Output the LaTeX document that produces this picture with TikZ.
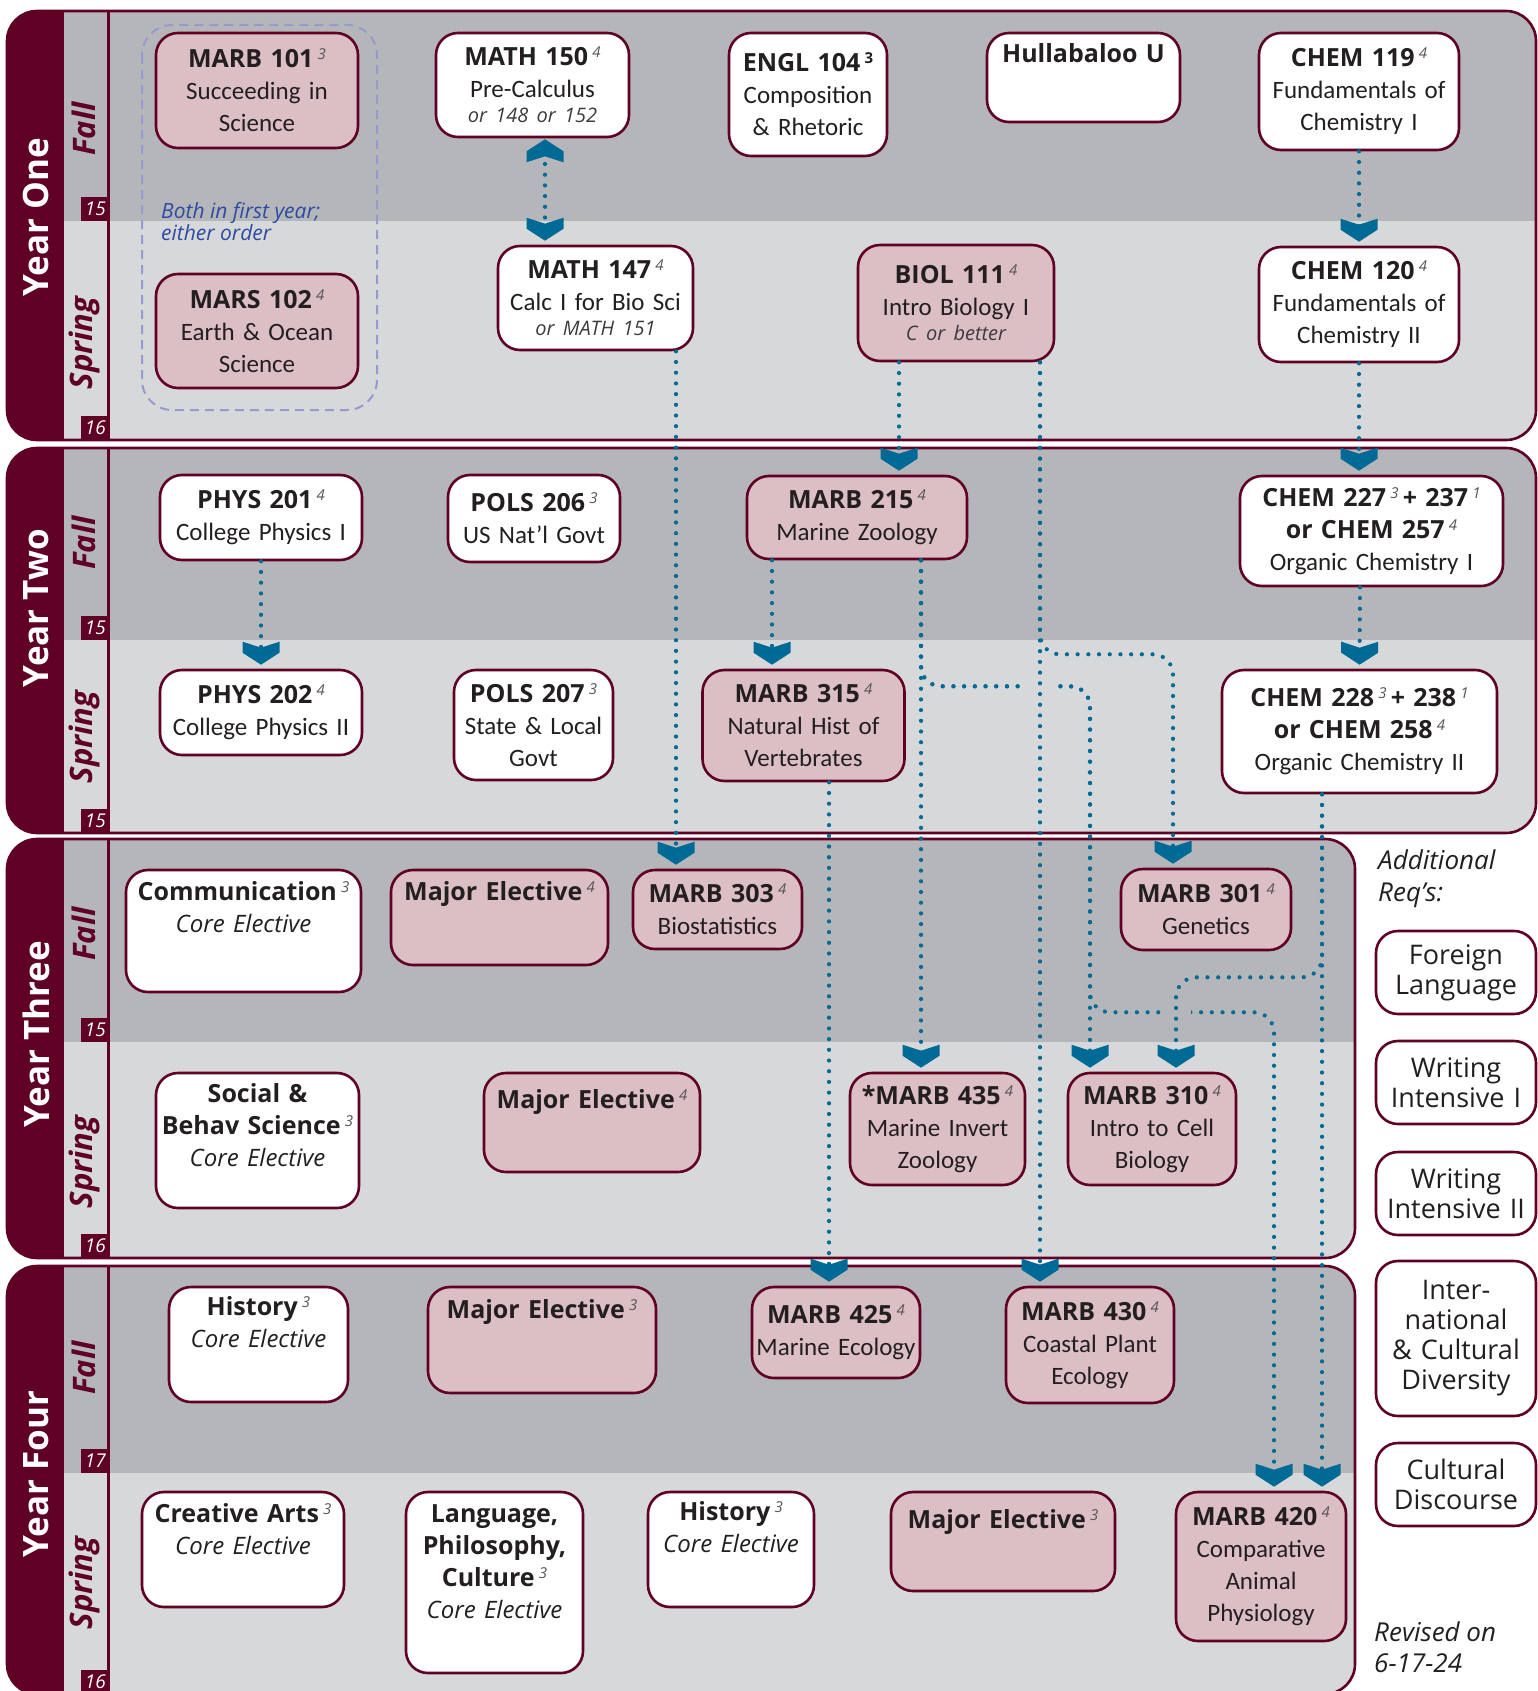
\documentclass[tikz,border=0pt]{standalone}
\usepackage{fontspec}
\setmainfont{Open Sans}
\newfontfamily\condfont{Carlito}
\usetikzlibrary{arrows.meta}

\definecolor{bandmaroon}{RGB}{96,0,36}
\definecolor{fallgray}{RGB}{181,182,186}
\definecolor{springgray}{RGB}{215,216,218}
\definecolor{coursepink}{RGB}{219,191,196}
\definecolor{chevblue}{RGB}{0,106,150}
\definecolor{notegray}{RGB}{60,60,60}
\definecolor{credgray}{RGB}{85,85,85}
\definecolor{groupblue}{RGB}{150,153,210}
\definecolor{noteblue}{RGB}{45,75,160}
\definecolor{ink}{RGB}{35,31,32}

\newcommand{\hd}[1]{\textbf{#1}}
\newcommand{\cnd}[1]{{\condfont\fontsize{25}{32}\selectfont #1}}
\newcommand{\aside}[1]{{\fontsize{20}{25}\selectfont\itshape\color{notegray}#1}}
\newcommand{\core}[1]{{\fontsize{24}{32}\selectfont\itshape #1}}
\newcommand{\crd}[1]{\,\raisebox{0.32em}{\normalfont\fontsize{15}{15}\selectfont\itshape\color{credgray}#1}}

% chevron tip for the prerequisite links
\pgfdeclarearrow{
  name = Chev,
  parameters = {},
  setup code = {
    \pgfarrowssettipend{0pt}
    \pgfarrowssetlineend{-14pt}
    \pgfarrowssetvisualbackend{-23pt}
    \pgfarrowssetbackend{-23pt}
    \pgfarrowshullpoint{0pt}{0pt}
    \pgfarrowsupperhullpoint{-23pt}{18.5pt}
  },
  drawing code = {
    \pgfsetfillcolor{chevblue}
    \pgfpathmoveto{\pgfqpoint{0pt}{0pt}}
    \pgfpathlineto{\pgfqpoint{-12pt}{18.5pt}}
    \pgfpathlineto{\pgfqpoint{-23pt}{18.5pt}}
    \pgfpathlineto{\pgfqpoint{-17pt}{0pt}}
    \pgfpathlineto{\pgfqpoint{-23pt}{-18.5pt}}
    \pgfpathlineto{\pgfqpoint{-12pt}{-18.5pt}}
    \pgfpathclose
    \pgfusepathqfill
  }
}

\begin{document}
\begin{tikzpicture}[x=1pt, y=-1pt,
    course/.style={draw=bandmaroon, line width=2.6pt, rounded corners=22pt, fill=white,
      inner sep=0pt, align=center, text=ink, font=\fontsize{25}{32}\selectfont},
    pinkcourse/.style={course, fill=coursepink},
    boxsize/.style 2 args={text width=#1pt, minimum height=#2pt},
    topline/.style 2 args={text height=#1pt, text depth=#2pt},
    req/.style={course, text width=160pt, font=\fontsize{27}{30}\selectfont},
    link/.style={draw=chevblue, line width=4.2pt, line cap=round,
      dash pattern=on 0pt off 10.7pt, rounded corners=20pt, -{Chev}},
    credit/.style={fill=bandmaroon, text=white, inner sep=0pt, minimum width=28pt,
      minimum height=24pt, anchor=south east, font=\fontsize{19}{19}\selectfont\itshape},
    yearlabel/.style={text=white, rotate=90, font=\fontsize{35}{35}\selectfont\bfseries},
    season/.style={text=bandmaroon, rotate=90, font=\fontsize{31}{31}\selectfont\bfseries\itshape},
    sidetext/.style={anchor=north west, align=left, inner sep=0pt, text=ink}]

    \useasboundingbox (0,0) rectangle (1538,1691);

    % year bands
    \foreach \yt/\ym/\yb/\xr/\yr/\yc/\fy/\sy/\fcr/\scr in {
        11/221/440/1536/One/217/129/343/15/16,
        448/640/833/1536/Two/608/543/737/15/15,
        839/1042/1258/1355/Three/1034/934/1162/15/16,
        1266/1473/1694/1355/Four/1474/1368/1583/17/16}{
      \begin{scope}
        \clip[rounded corners=30pt] (7,\yt) rectangle (\xr,\yb);
        \fill[fallgray] (7,\yt) rectangle (\xr,\ym);
        \fill[springgray] (7,\ym) rectangle (\xr,\yb);
        \fill[bandmaroon] (7,\yt) rectangle (64,\yb);
      \end{scope}
      \draw[bandmaroon, line width=2.6pt, rounded corners=30pt] (7,\yt) rectangle (\xr,\yb);
      \draw[bandmaroon, line width=3pt] (108,\yt) -- (108,\yb);
      \node[credit] (fallcr\yr) at (109.5,\ym) {\fcr};
      \node[credit] (springcr\yr) at (109.5,\yb) {\scr};
      \node[yearlabel] (year\yr) at (36,\yc) {Year \yr};
      \node[season] (fall\yr) at (84,\fy) {Fall};
      \node[season] (spring\yr) at (84,\sy) {Spring};
    }

    % year one
    \draw[groupblue, line width=2pt, dash pattern=on 9pt off 6pt, rounded corners=30pt] (142,25) rectangle (377,410);
    \node[sidetext, text=noteblue, font=\fontsize{21}{22}\selectfont\itshape] (bothnote) at (161,202) {Both in first year;\\either order};
    \node[pinkcourse, boxsize={202}{115}] (marb101) at (257,90.5) {\hd{MARB 101}\crd{3}\\\cnd{Succeeding in}\\\cnd{Science}};
    \node[pinkcourse, boxsize={202}{114}] (mars102) at (257,331) {\hd{MARS 102}\crd{4}\\\cnd{Earth \& Ocean}\\\cnd{Science}};
    \node[course, boxsize={193}{104}] (math150) at (532.5,85) {\hd{MATH 150}\crd{4}\\\cnd{Pre-Calculus}\\[-7pt]\aside{or 148 or 152}};
    \node[course, boxsize={158}{123}] (engl104) at (808,94.5) {\hd{ENGL 104\,\raisebox{0.32em}{\fontsize{15}{15}\selectfont 3}}\\\cnd{Composition}\\\cnd{\& Rhetoric}};
    \node[course, boxsize={193}{89}, topline={30}{59}] (hullabaloo) at (1083.5,77.5) {\hd{Hullabaloo U}};
    \node[course, boxsize={200}{117}] (chem119) at (1359,91.5) {\hd{CHEM 119}\crd{4}\\\cnd{Fundamentals of}\\\cnd{Chemistry I}};
    \node[course, boxsize={195}{104}] (math147) at (595.5,298) {\hd{MATH 147}\crd{4}\\\cnd{Calc I for Bio Sci}\\[-7pt]\aside{or MATH 151}};
    \node[pinkcourse, boxsize={196}{116}] (biol111) at (956,303) {\hd{BIOL 111}\crd{4}\\\cnd{Intro Biology I}\\[-7pt]\aside{C or better}};
    \node[course, boxsize={200}{115}] (chem120) at (1359,304.5) {\hd{CHEM 120}\crd{4}\\\cnd{Fundamentals of}\\\cnd{Chemistry II}};

    % year two
    \node[course, boxsize={202}{85}] (phys201) at (261,517.5) {\hd{PHYS 201}\crd{4}\\\cnd{College Physics I}};
    \node[course, boxsize={172}{87}] (pols206) at (534,518.5) {\hd{POLS 206}\crd{3}\\\cnd{US Nat’l Govt}};
    \node[pinkcourse, boxsize={220}{83}] (marb215) at (857,517.5) {\hd{MARB 215}\crd{4}\\\cnd{Marine Zoology}};
    \node[course, boxsize={263}{110}] (chem227) at (1371.5,531) {\hd{CHEM 227}\crd{3}\hd{\,+ 237}\crd{1}\\\hd{or CHEM 257}\crd{4}\\\cnd{Organic Chemistry I}};
    \node[course, boxsize={202}{85}] (phys202) at (261,712.5) {\hd{PHYS 202}\crd{4}\\\cnd{College Physics II}};
    \node[course, boxsize={159}{110}] (pols207) at (533.5,725) {\hd{POLS 207}\crd{3}\\\cnd{State \& Local}\\\cnd{Govt}};
    \node[pinkcourse, boxsize={202}{111}] (marb315) at (803.5,725.5) {\hd{MARB 315}\crd{4}\\\cnd{Natural Hist of}\\\cnd{Vertebrates}};
    \node[course, boxsize={275}{123}] (chem228) at (1359.5,731.5) {\hd{CHEM 228}\crd{3}\hd{\,+ 238}\crd{1}\\\hd{or CHEM 258}\crd{4}\\\cnd{Organic Chemistry II}};

    % year three
    \node[course, boxsize={235}{122}, topline={30}{92}] (comm) at (243.5,931) {\hd{Communication}\crd{3}\\\core{Core Elective}};
    \node[pinkcourse, boxsize={217}{95}, topline={30}{65}] (majel3f) at (499.5,917.5) {\hd{Major Elective}\crd{4}};
    \node[pinkcourse, boxsize={169}{79}] (marb303) at (717.5,909.5) {\hd{MARB 303}\crd{4}\\\cnd{Biostatistics}};
    \node[pinkcourse, boxsize={170}{81}] (marb301) at (1206,909.5) {\hd{MARB 301}\crd{4}\\\cnd{Genetics}};
    \node[course, boxsize={203}{135}, topline={29}{106}] (social) at (257.5,1140.5) {\hd{Social \&}\\\hd{Behav Science}\crd{3}\\\core{Core Elective}};
    \node[pinkcourse, boxsize={216}{99}, topline={35}{64}] (majel3s) at (592,1122.5) {\hd{Major Elective}\crd{4}};
    \node[pinkcourse, boxsize={175}{112}] (marb435) at (937.5,1129) {\hd{*MARB 435}\crd{4}\\\cnd{Marine Invert}\\\cnd{Zoology}};
    \node[pinkcourse, boxsize={168}{112}] (marb310) at (1152,1129) {\hd{MARB 310}\crd{4}\\\cnd{Intro to Cell}\\\cnd{Biology}};

    % year four
    \node[course, boxsize={179}{115}, topline={28}{87}] (hist4f) at (258.5,1344.5) {\hd{History}\crd{3}\\\core{Core Elective}};
    \node[pinkcourse, boxsize={228}{106}, topline={31}{75}] (majel4f) at (542,1340) {\hd{Major Elective}\crd{3}};
    \node[pinkcourse, boxsize={168}{91}] (marb425) at (836,1332.5) {\hd{MARB 425}\crd{4}\\\cnd{Marine Ecology}};
    \node[pinkcourse, boxsize={168}{116}] (marb430) at (1090,1345) {\hd{MARB 430}\crd{4}\\\cnd{Coastal Plant}\\\cnd{Ecology}};
    \node[course, boxsize={202}{115}, topline={30}{85}] (arts) at (243,1549.5) {\hd{Creative Arts}\crd{3}\\\core{Core Elective}};
    \node[course, boxsize={177}{181}, topline={30}{151}] (lpc) at (494.5,1582.5) {\hd{Language,}\\\hd{Philosophy,}\\\hd{Culture}\crd{3}\\\core{Core Elective}};
    \node[course, boxsize={166}{115}, topline={28}{87}] (hist4s) at (731,1549.5) {\hd{History}\crd{3}\\\core{Core Elective}};
    \node[pinkcourse, boxsize={224}{99}, topline={36}{63}] (majel4s) at (1003,1541.5) {\hd{Major Elective}\crd{3}};
    \node[pinkcourse, boxsize={170}{149}] (marb420) at (1261,1566.5) {\hd{MARB 420}\crd{4}\\\cnd{Comparative}\\\cnd{Animal}\\\cnd{Physiology}};

    % additional requirements
    \node[sidetext, font=\fontsize{26}{32}\selectfont\itshape] (reqhead) at (1378,850) {Additional\\Req’s:};
    \node[req, minimum height=83pt] (foreign) at (1456,972.5) {Foreign\\Language};
    \node[req, minimum height=83pt] (wi1) at (1456,1082.5) {Writing\\Intensive I};
    \node[req, minimum height=83pt] (wi2) at (1456,1193.5) {Writing\\Intensive II};
    \node[req, minimum height=155pt] (intl) at (1456,1338.5) {Inter-\\national\\\& Cultural\\Diversity};
    \node[req, minimum height=83pt] (cultural) at (1456,1484.5) {Cultural\\Discourse};
    \node[sidetext, font=\fontsize{26}{31}\selectfont\itshape] (revised) at (1374,1622) {Revised on\\6-17-24};

    % prerequisite links
    \draw[link, {Chev}-{Chev}] ([xshift=12.5pt, yshift=-1pt]math150.south) -- ([xshift=-50.5pt, yshift=4pt]math147.north);
    \draw[link] (chem119.south) -- ([yshift=4pt]chem120.north);
    \draw[link] (chem120.south) -- ([xshift=-12.5pt, yshift=4pt]chem227.north);
    \draw[link] ([xshift=80.5pt]math147.south) -- ([xshift=-41.5pt, yshift=4pt]marb303.north);
    \draw[link] ([xshift=-57pt]biol111.south) -- ([xshift=42pt, yshift=4pt]marb215.north);
    \draw[link] ([xshift=84pt]biol111.south) -- ++(0,292) -| ([xshift=-33pt, yshift=4pt]marb301.north);
    \draw[link] (phys201.south) -- ([yshift=4pt]phys202.north);
    \draw[link] ([xshift=-85pt]marb215.south) -- ([xshift=-31.5pt, yshift=4pt]marb315.north);
    \draw[link] ([xshift=64pt]marb215.south) -- ([xshift=-16.5pt, yshift=4pt]marb435.north);
    \draw[link] ([xshift=64pt]marb215.south) -- ++(0,126) -| ([xshift=-62pt, yshift=4pt]marb310.north);
    \draw[link] ([xshift=64pt]marb215.south) -- ++(0,126) -- ++(169,0) -- ++(0,326) -| ([xshift=13pt, yshift=4pt]marb420.north);
    \draw[link] ([xshift=-11.5pt]chem227.south) -- ([yshift=4pt]chem228.north);
    \draw[link] ([xshift=-37.5pt]chem228.south) -- ([xshift=61pt, yshift=4pt]marb420.north);
    \draw[link] ([xshift=25.5pt]marb315.south) -- ([xshift=-7pt, yshift=4pt]marb425.north);
    % gaps where links cross
    \fill[springgray] (1025,679) rectangle (1055,691);
    \fill[fallgray] (1161,1005) rectangle (1191,1017);
    \draw[link] ([xshift=84pt]biol111.south) -- ([xshift=-50pt, yshift=4pt]marb430.north);
    \draw[link] ([xshift=-37.5pt]chem228.south) -- ++(0,183) -| ([xshift=24pt, yshift=4pt]marb310.north);
\end{tikzpicture}
\end{document}
